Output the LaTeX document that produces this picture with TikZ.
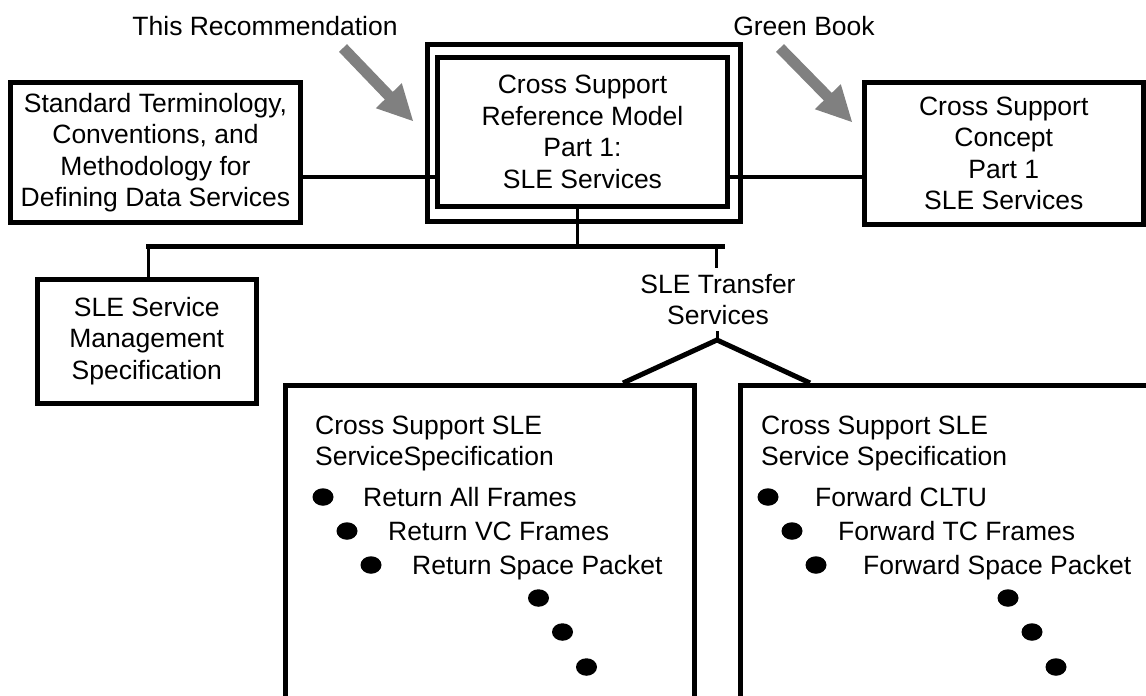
\documentclass[tikz,border=0pt]{standalone}
\usepackage{fontspec}
\setmainfont{Liberation Sans}
\usetikzlibrary{shapes.geometric}
\definecolor{pgray}{HTML}{808080}
\begin{document}
\begin{tikzpicture}[x=1pt,y=-1pt,
  every node/.style={font=\fontsize{26.5pt}{31.5pt}\selectfont, inner sep=0pt},
  box/.style={draw, line width=5pt, rectangle, align=center},
  conn/.style={line width=4.5pt},
  thinln/.style={line width=3pt},
  barln/.style={line width=5pt},
  bul/.style={ellipse, fill=black, minimum width=21pt, minimum height=17.5pt},
  item/.style={anchor=base west},
]
\useasboundingbox (0,0) rectangle (1146,696);
\clip (0,0) rectangle (1146,696);

% top boxes
\node[box, minimum width=290pt, minimum height=140pt] (lbox) at (155.5,152.5)
  {Standard Terminology,\\Conventions, and\\Methodology for\\Defining Data Services};
\node[box, minimum width=313.5pt, minimum height=177pt] (couter) at (583.75,132.5) {};
\node[box, minimum width=290pt, minimum height=149pt] (cinner) at (582.5,132)
  {Cross Support\\Reference Model\\Part 1:\\SLE Services};
\node[box, minimum width=278.5pt, minimum height=141.5pt] (rbox) at (1003.75,153.25)
  {Cross Support\\Concept\\Part 1\\SLE Services};

% labels
\node (trec) at (265,26) {This Recommendation};
\node (gbook) at (804,26) {Green Book};

% pointer arrows
\fill[pgray] (347,44.2) -- (392.8,91.9) -- (401.8,83.2) -- (413,121) -- (375.8,108.2) -- (384.8,99.5) -- (339,51.8) -- cycle;
\fill[pgray] (784,44.2) -- (831.8,92.9) -- (840.8,84.2) -- (852,122) -- (814.8,109.2) -- (823.8,100.5) -- (776,51.8) -- cycle;

% connectors top
\coordinate (cy) at (0,177);
\draw[conn] (lbox.east |- cy) -- (cinner.west |- cy);
\draw[conn] (cinner.east |- cy) -- (rbox.west |- cy);

% tree bar
\coordinate (vx) at (577,246.5);
\coordinate (barL) at (146,246.5);
\coordinate (barR) at (725,246.5);
\coordinate (dropL) at (148.5,246.5);
\coordinate (dropR) at (716,246.5);
\draw[thinln] (cinner.south -| vx) -- (vx);
\draw[barln] (barL) -- (barR);

% management box
\node[box, minimum width=218.5pt, minimum height=124pt] (mgmt) at (146.75,341)
  {SLE Service\\Management\\Specification};
\draw[thinln] (dropL) -- (dropL |- mgmt.north);

% transfer services
\node[anchor=north, align=center, inner ysep=6pt] (tss) at (718,268) {SLE Transfer\\Services};
\draw[thinln] (dropR) -- (dropR |- tss.north);
\coordinate (apex) at (717,340);
\draw[thinln] (apex |- tss.south) -- (apex);

% lower boxes
\node[box, minimum width=408.5pt, minimum height=334.5pt] (lspec) at (489.75,552.75) {};
\node[box, minimum width=429.5pt, minimum height=334.5pt] (rspec) at (955.25,552.75) {};
\coordinate (tl) at (623,0);
\coordinate (tr) at (810,0);
\draw[barln, line join=miter] (lspec.north -| tl) -- (apex) -- (rspec.north -| tr);

% lower left contents
\node[item] (lh1) at (315,434) {Cross Support SLE};
\node[item] (lh2) at (315,465.5) {ServiceSpecification};
\node[bul] (lb1) at (323,497) {};
\node[item] (lt1) at (363,506.5) {Return All Frames};
\node[bul] (lb2) at (347,531) {};
\node[item] (lt2) at (388,540.5) {Return VC Frames};
\node[bul] (lb3) at (371,565) {};
\node[item] (lt3) at (412,574.5) {Return Space Packet};
\node[bul] (ld1) at (538.5,598) {};
\node[bul] (ld2) at (562.5,632) {};
\node[bul] (ld3) at (586.5,667) {};

% lower right contents
\node[item] (rh1) at (761,434) {Cross Support SLE};
\node[item] (rh2) at (761,465.5) {Service Specification};
\node[bul] (rb1) at (768,497) {};
\node[item] (rt1) at (815,506.5) {Forward CLTU};
\node[bul] (rb2) at (792,531) {};
\node[item] (rt2) at (838,540.5) {Forward TC Frames};
\node[bul] (rb3) at (816,565) {};
\node[item] (rt3) at (863,574.5) {Forward Space Packet};
\node[bul] (rd1) at (1008,598) {};
\node[bul] (rd2) at (1032,632) {};
\node[bul] (rd3) at (1056,667) {};
\end{tikzpicture}
\end{document}
